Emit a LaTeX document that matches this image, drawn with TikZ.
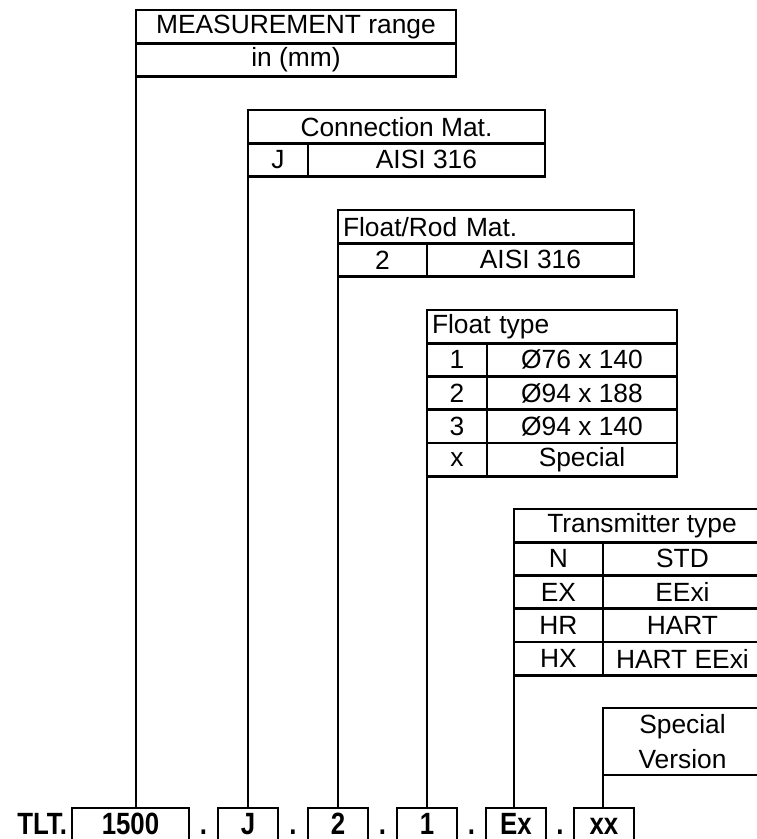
\documentclass[tikz,border=0pt]{standalone}
\usepackage{fontspec}
\setmainfont{Liberation Sans}
\newfontfamily\codefont[FakeStretch=0.84]{Liberation Sans}
\usetikzlibrary{positioning,calc}

\begin{document}
\begin{tikzpicture}[x=0.02cm,y=-0.02cm,node distance=0pt,font=\fontsize{15}{18}\selectfont]
\tikzset{
  cell/.style={draw,line width=1.6pt,inner sep=0pt,outer sep=0pt,minimum height=0.665cm,align=center},
  lefttitle/.style={cell,inner xsep=0.1cm,align=left},
  code/.style={draw,line width=1.6pt,inner sep=0pt,outer sep=0pt,minimum height=0.74cm,minimum width=1.2cm,text height=9pt,text depth=0pt,font=\codefont\fontsize{17.5}{21}\selectfont\bfseries},
  sep/.style={inner sep=0pt,outer sep=0pt,text depth=0pt,font=\codefont\fontsize{17.5}{21}\selectfont\bfseries},
  link/.style={line width=1.6pt}
}
\clip (0,0) rectangle (757,839);
% code boxes
\node(c1500)[code,anchor=north west,minimum width=2.34cm] at (72,808) {1500};
\node(cJ)[code,anchor=north west] at (218,808) {J};
\node(c2)[code,anchor=north west] at (308,808) {2};
\node(c1)[code,anchor=north west] at (397,808) {1};
\node(cEx)[code,anchor=north west] at (486,808) {Ex};
\node(cxx)[code,anchor=north west] at (574,808) {xx};
\node(tlt)[sep,base left=0.1cm of c1500] {TLT.};
\node(d1)[sep,anchor=base] at ($(c1500.base east)!0.5!(cJ.base west)$) {.};
\node(d2)[sep,anchor=base] at ($(cJ.base east)!0.5!(c2.base west)$) {.};
\node(d3)[sep,anchor=base] at ($(c2.base east)!0.5!(c1.base west)$) {.};
\node(d4)[sep,anchor=base] at ($(c1.base east)!0.5!(cEx.base west)$) {.};
\node(d5)[sep,anchor=base] at ($(cEx.base east)!0.5!(cxx.base west)$) {.};
% measurement range
\node(meas)[cell,anchor=north west,minimum width=6.4cm] at (136,10) {MEASUREMENT range};
\node(measunit)[cell,minimum width=6.4cm,below=of meas] {in (mm)};
% connection material
\node(conn)[cell,anchor=north west,minimum width=5.94cm] at (248,110) {Connection Mat.};
\node(connkey)[cell,minimum width=1.2cm,below right=0pt and 0pt of conn.south west] {J};
\node(connval)[cell,minimum width=4.74cm,right=of connkey] {AISI 316};
% float/rod material
\node(rod)[lefttitle,anchor=north west,text width=5.72cm] at (338,210) {Float/Rod Mat.};
\node(rodkey)[cell,minimum width=1.78cm,below right=0pt and 0pt of rod.south west] {2};
\node(rodval)[cell,minimum width=4.14cm,right=of rodkey] {AISI 316};
% float type
\node(ftype)[lefttitle,anchor=north west,text width=4.8cm] at (427,310) {Float type};
\node(fkey1)[cell,minimum width=1.2cm,below right=0pt and 0pt of ftype.south west] {1};
\node(fval1)[cell,minimum width=3.8cm,right=of fkey1] {Ø76 x 140};
\node(fkey2)[cell,minimum width=1.2cm,below=of fkey1] {2};
\node(fval2)[cell,minimum width=3.8cm,right=of fkey2] {Ø94 x 188};
\node(fkey3)[cell,minimum width=1.2cm,below=of fkey2] {3};
\node(fval3)[cell,minimum width=3.8cm,right=of fkey3] {Ø94 x 140};
\node(fkey4)[cell,minimum width=1.2cm,below=of fkey3] {x};
\node(fval4)[cell,minimum width=3.8cm,right=of fkey4] {Special};
% transmitter type
\node(trans)[cell,anchor=north west,minimum width=5.12cm] at (514,509) {Transmitter type};
\node(tkey1)[cell,minimum width=1.78cm,below right=0pt and 0pt of trans.south west] {N};
\node(tval1)[cell,minimum width=3.18cm,right=of tkey1] {STD};
\node(tkey2)[cell,minimum width=1.78cm,below=of tkey1] {EX};
\node(tval2)[cell,minimum width=3.18cm,right=of tkey2] {EExi};
\node(tkey3)[cell,minimum width=1.78cm,below=of tkey2] {HR};
\node(tval3)[cell,minimum width=3.18cm,right=of tkey3] {HART};
\node(tkey4)[cell,minimum width=1.78cm,below=of tkey3] {HX};
\node(tval4)[cell,minimum width=3.18cm,right=of tkey4] {HART EExi};
% special version
\node(spec)[cell,anchor=north west,minimum width=3.18cm,minimum height=1.34cm,font=\fontsize{15}{20}\selectfont] at (603,708) {Special\\Version};
% links
\draw[link](meas.north west)--(meas.north west |- c1500.north);
\draw[link](conn.north west)--(conn.north west |- cJ.north);
\draw[link](rod.north west)--(rod.north west |- c2.north);
\draw[link](ftype.north west)--(ftype.north west |- c1.north);
\draw[link](trans.north west)--(trans.north west |- cEx.north);
\draw[link](spec.north west)--(spec.north west |- cxx.north);
\end{tikzpicture}
\end{document}
